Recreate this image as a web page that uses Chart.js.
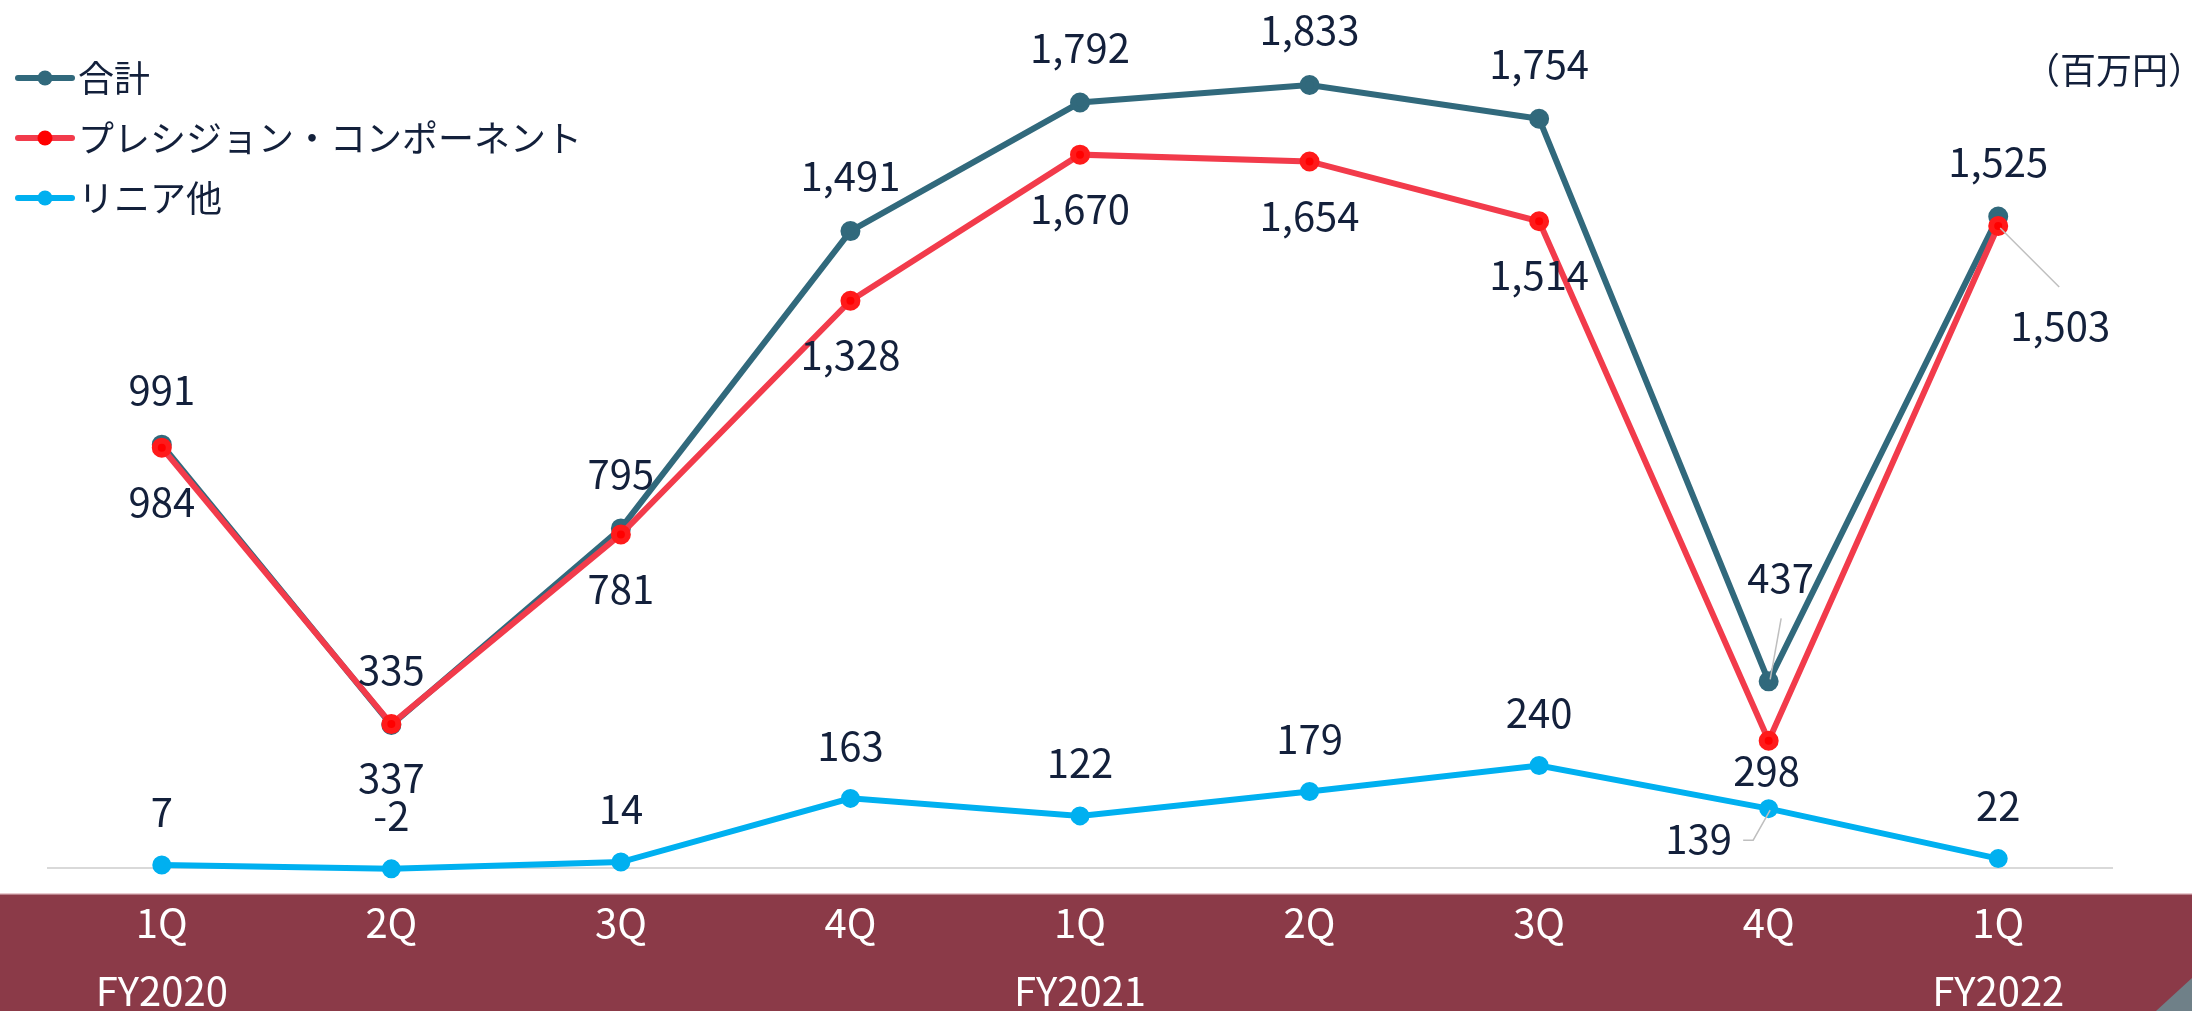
<!DOCTYPE html>
<html lang="ja">
<head>
<meta charset="utf-8">
<script src="https://cdn.jsdelivr.net/npm/chart.js@4.4.1/dist/chart.umd.min.js"></script>
<style>
  html, body { margin: 0; padding: 0; background: #fff; }
  #wrap { width: 2192px; height: 1011px; }
</style>
</head>
<body>
<div id="wrap"><canvas id="salesChart" width="2192" height="1011"></canvas></div>
<script>
const quarters = ["1Q", "2Q", "3Q", "4Q", "1Q", "2Q", "3Q", "4Q", "1Q"];
const fiscalYears = ["FY2020", "", "", "", "FY2021", "", "", "", "FY2022"];
const seriesNames = ["合計", "プレシジョン・コンポーネント", "リニア他"];
const totalSales = [991, 335, 795, 1491, 1792, 1833, 1754, 437, 1525];
const precisionSales = [984, 337, 781, 1328, 1670, 1654, 1514, 298, 1503];
const linearSales = [7, -2, 14, 163, 122, 179, 240, 139, 22];
const unitLabel = "（百万円）";

const fontFamily = "'Noto Sans CJK JP', 'Noto Sans', sans-serif";
const textColor = "#13203B";
const bandColor = "#8B3A48";

// background band + unit text + zero line
const backdrop = {
    id: "backdrop",
    beforeDraw(chart) {
        const ctx = chart.ctx;
        const xs = chart.scales.x;
        ctx.save();
        ctx.fillStyle = "#fff";
        ctx.fillRect(0, 0, chart.width, chart.height);
        ctx.fillStyle = bandColor;
        ctx.fillRect(0, xs.top, chart.width, chart.height - xs.top);
        ctx.fillStyle = "#E8C9CE";
        ctx.fillRect(0, xs.top, chart.width, 1.5);
        // corner of the slide decoration
        ctx.fillStyle = "#6F8088";
        ctx.beginPath();
        ctx.moveTo(chart.width, 978);
        ctx.lineTo(chart.width, chart.height);
        ctx.lineTo(2156, chart.height);
        ctx.closePath();
        ctx.fill();
        ctx.fillStyle = textColor;
        ctx.font = "36px " + fontFamily;
        ctx.textAlign = "center";
        ctx.textBaseline = "middle";
        ctx.fillText(unitLabel, 2114, 70);
        ctx.restore();
    },
    beforeDatasetsDraw(chart) {
        const ctx = chart.ctx;
        const a = chart.chartArea;
        const y0 = chart.scales.y.getPixelForValue(0);
        ctx.save();
        ctx.strokeStyle = "#D9D9D9";
        ctx.lineWidth = 2;
        ctx.beginPath();
        ctx.moveTo(a.left, y0);
        ctx.lineTo(a.right, y0);
        ctx.stroke();
        ctx.restore();
    }
};

// legend in the upper left corner
const cornerLegend = {
    id: "cornerLegend",
    afterDraw(chart) {
        const ctx = chart.ctx;
        ctx.save();
        chart.data.datasets.forEach((ds, i) => {
            const y = 78 + i * 60;
            ctx.strokeStyle = ds.borderColor;
            ctx.lineWidth = 6;
            ctx.lineCap = "round";
            ctx.beginPath();
            ctx.moveTo(18, y);
            ctx.lineTo(72, y);
            ctx.stroke();
            ctx.fillStyle = ds.pointBackgroundColor;
            ctx.beginPath();
            ctx.arc(45, y, 7.5, 0, Math.PI * 2);
            ctx.fill();
            ctx.fillStyle = textColor;
            ctx.font = "36px " + fontFamily;
            ctx.textAlign = "left";
            ctx.textBaseline = "middle";
            ctx.fillText(ds.label, 78, y);
        });
        ctx.restore();
    }
};

// value labels, some with leader lines
const valueLabels = {
    id: "valueLabels",
    afterDatasetsDraw(chart) {
        const ctx = chart.ctx;
        ctx.save();
        ctx.font = "40px " + fontFamily;
        ctx.textAlign = "center";
        ctx.textBaseline = "middle";
        chart.data.datasets.forEach((ds, di) => {
            const meta = chart.getDatasetMeta(di);
            meta.data.forEach((pt, i) => {
                const c = ds.callouts[i];
                let x = pt.x;
                let y = pt.y + ds.labelDy;
                if (c) {
                    x = pt.x + c.dx;
                    y = pt.y + c.dy;
                    ctx.strokeStyle = "#BFBFBF";
                    ctx.lineWidth = 1.5;
                    ctx.beginPath();
                    c.path.forEach((p, k) => {
                        if (k === 0) ctx.moveTo(pt.x + p[0], pt.y + p[1]);
                        else ctx.lineTo(pt.x + p[0], pt.y + p[1]);
                    });
                    ctx.stroke();
                }
                ctx.fillStyle = textColor;
                ctx.fillText(ds.data[i].toLocaleString("en-US"), x, y);
            });
        });
        ctx.restore();
    }
};

const ctx = document.getElementById("salesChart").getContext("2d");

new Chart(ctx, {
    type: "line",
    data: {
        labels: quarters.map((q, i) => [q, fiscalYears[i]]),
        datasets: [{
            label: seriesNames[0],
            data: totalSales,
            borderColor: "#31697C",
            backgroundColor: "#31697C",
            pointBackgroundColor: "#31697C",
            pointBorderColor: "#31697C",
            borderWidth: 6,
            pointRadius: 7,
            order: 1,
            labelDy: -55,
            callouts: { 7: { dx: 12, dy: -104, path: [[1.5, -2], [12.5, -63]] } }
        }, {
            label: seriesNames[1],
            data: precisionSales,
            borderColor: "#F23B4B",
            backgroundColor: "#F23B4B",
            pointBackgroundColor: "#FF0000",
            pointBorderColor: "#FF1A1A",
            borderWidth: 6,
            pointRadius: 7,
            order: 0,
            labelDy: 54,
            callouts: {
                7: { dx: -2, dy: 30, path: [] },
                8: { dx: 62, dy: 100, path: [[2, 2], [61, 61]] }
            }
        }, {
            label: seriesNames[2],
            data: linearSales,
            borderColor: "#00B0F0",
            backgroundColor: "#00B0F0",
            pointBackgroundColor: "#00B0F0",
            pointBorderColor: "#00B0F0",
            borderWidth: 6,
            pointRadius: 6.5,
            order: 2,
            labelDy: -53,
            callouts: { 7: { dx: -70, dy: 30, path: [[1.5, 1.5], [-15.5, 31.5], [-25.5, 31.5]] } }
        }]
    },
    options: {
        responsive: false,
        devicePixelRatio: 1,
        animation: false,
        layout: {
            autoPadding: false,
            padding: { left: 47, right: 79, top: 0, bottom: 0 }
        },
        plugins: {
            legend: { display: false },
            tooltip: { enabled: false }
        },
        scales: {
            x: {
                offset: true,
                grid: { display: false, drawTicks: false },
                border: { display: false },
                ticks: {
                    color: "#FFFFFF",
                    autoSkip: false,
                    maxRotation: 0,
                    padding: -4,
                    font: { family: fontFamily, size: 40, lineHeight: 1.7 }
                },
                afterFit(scale) { scale.height = 118; }
            },
            y: {
                display: false,
                min: -58.5,
                max: 2032
            }
        }
    },
    plugins: [backdrop, valueLabels, cornerLegend]
});
</script>
</body>
</html>
